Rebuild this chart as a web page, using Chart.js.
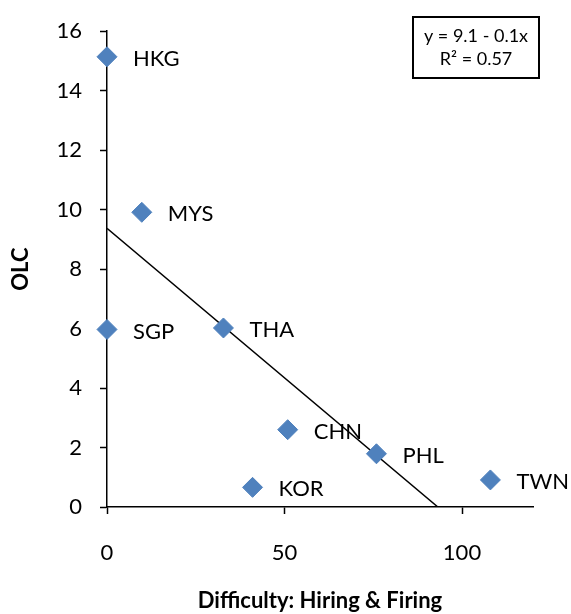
<!DOCTYPE html>
<html>
<head>
<meta charset="utf-8">
<script src="https://cdn.jsdelivr.net/npm/chart.js@4"></script>
<style>
  html, body { margin: 0; padding: 0; background: #fff; }
  #wrap { width: 571px; height: 614px; position: relative; }
</style>
</head>
<body>
<div id="wrap"><canvas id="olcChart"></canvas></div>
<script>
// --- data ---
const countries = ['HKG', 'MYS', 'SGP', 'THA', 'CHN', 'PHL', 'KOR', 'TWN'];
const hiringFiring = [0, 9.8, 0, 32.8, 50.9, 75.9, 41.0, 108.0];
const olcValues = [15.14, 9.91, 5.97, 6.02, 2.60, 1.79, 0.66, 0.91];
const trendX = [0, 93.2];
const trendY = [9.37, 0];
const xTicks = [0, 50, 100];
const yTicks = [0, 2, 4, 6, 8, 10, 12, 14, 16];
const equationLines = ['y = 9.1 - 0.1x', 'R\u00b2 = 0.57'];

const FONT = 'Lato, "Open Sans", sans-serif';

// draws the country label next to each point and the equation box
const labelPlugin = {
    id: 'labels',
    afterDatasetsDraw(chart) {
        const ctx = chart.ctx;
        const meta = chart.getDatasetMeta(0);
        ctx.save();
        ctx.fillStyle = '#000';
        ctx.font = '22px ' + FONT;
        ctx.textBaseline = 'middle';
        ctx.textAlign = 'left';
        meta.data.forEach((pt, i) => {
            ctx.fillText(countries[i], pt.x + 26, pt.y + 2);
        });

        // equation box (top right)
        const bx = 413, by = 17, bw = 126, bh = 61;
        ctx.fillStyle = '#fff';
        ctx.fillRect(bx, by, bw, bh);
        ctx.strokeStyle = '#000';
        ctx.lineWidth = 2;
        ctx.strokeRect(bx, by, bw, bh);
        ctx.fillStyle = '#000';
        ctx.font = '18px ' + FONT;
        ctx.textAlign = 'center';
        ctx.fillText(equationLines[0], bx + bw / 2, by + 19);
        ctx.fillText(equationLines[1], bx + bw / 2, by + 42);
        ctx.restore();
    }
};

new Chart(document.getElementById('olcChart').getContext('2d'), {
    type: 'scatter',
    data: {
        datasets: [
            {
                label: 'OLC',
                data: hiringFiring.map((x, i) => ({ x: x, y: olcValues[i] })),
                pointStyle: 'rectRot',
                pointRadius: 10,
                pointHoverRadius: 10,
                backgroundColor: '#4F81BD',
                borderColor: '#4F81BD',
                borderWidth: 1,
                clip: false,
                order: 1
            },
            {
                label: 'Trend',
                type: 'line',
                data: trendX.map((x, i) => ({ x: x, y: trendY[i] })),
                borderColor: '#000',
                borderWidth: 1.5,
                pointRadius: 0,
                fill: false,
                order: 2
            }
        ]
    },
    options: {
        responsive: true,
        maintainAspectRatio: false,
        animation: false,
        layout: { padding: { left: 8, top: 25, right: 38, bottom: 0 } },
        plugins: {
            legend: { display: false },
            tooltip: { enabled: false }
        },
        scales: {
            x: {
                type: 'linear',
                min: 0,
                max: 120,
                afterBuildTicks: (axis) => { axis.ticks = xTicks.map(v => ({ value: v })); },
                afterFit: (axis) => { axis.height = 107; },
                border: { color: '#000', width: 1.5 },
                grid: { drawOnChartArea: false, drawTicks: true, tickLength: 7, color: '#000', tickWidth: 1.5 },
                ticks: { color: '#000', font: { family: FONT, size: 22 }, padding: 26 },
                title: {
                    display: true,
                    text: 'Difficulty: Hiring & Firing',
                    color: '#000',
                    font: { family: FONT, size: 22, weight: 'bold' },
                    padding: { top: 0, bottom: 0 }
                }
            },
            y: {
                type: 'linear',
                min: 0,
                max: 16,
                afterBuildTicks: (axis) => { axis.ticks = yTicks.map(v => ({ value: v })); },
                afterFit: (axis) => { axis.width = 99; },
                border: { color: '#000', width: 1.5 },
                grid: { drawOnChartArea: false, drawTicks: true, tickLength: 7, color: '#000', tickWidth: 1.5 },
                ticks: { color: '#000', font: { family: FONT, size: 22 }, padding: 18 },
                title: {
                    display: true,
                    text: 'OLC',
                    color: '#000',
                    font: { family: FONT, size: 22, weight: 'bold' },
                    padding: { top: 0, bottom: 0 }
                }
            }
        }
    },
    plugins: [labelPlugin]
});
</script>
</body>
</html>
